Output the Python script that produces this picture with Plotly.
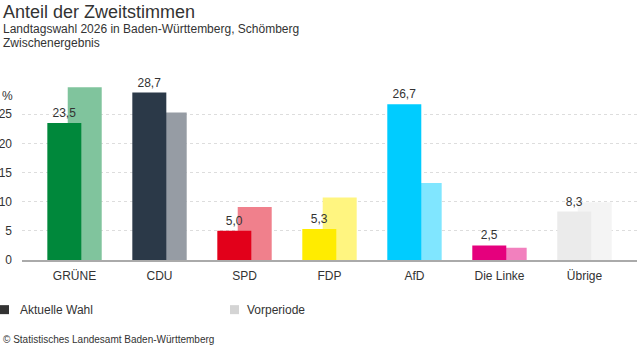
import plotly.graph_objects as go

parties = ["GRÜNE", "CDU", "SPD", "FDP", "AfD", "Die Linke", "Übrige"]
current = [23.5, 28.7, 5.0, 5.3, 26.7, 2.5, 8.3]
previous = [29.6, 25.3, 9.1, 10.7, 13.2, 2.1, 9.9]
labels = ["23,5", "28,7", "5,0", "5,3", "26,7", "2,5", "8,3"]
colors_cur = ["#00883B", "#2B3948", "#E2001A", "#FFEC00", "#00CCFF", "#E5007D", "#EBEBEB"]
colors_prev = ["#80C49D", "#969CA4", "#F0808C", "#FFF580", "#80E6FF", "#F280BE", "#F4F4F4"]
yticks = [0, 5, 10, 15, 20, 25]

W, H = 637, 352
L, R = 22, 0
TOP, BOT = 85.1, 260.3
T, B = TOP, H - BOT
PW = W - L - R
PH = BOT - TOP

def px(x):
    return (x - L) / PW

def py(y):
    return (BOT - y) / PH

xs = list(range(len(parties)))
FONT = "Liberation Sans, Arial, sans-serif"

fig = go.Figure()
fig.add_trace(go.Bar(
    x=xs, y=previous, width=0.4, offset=-0.08,
    marker=dict(color=colors_prev, line=dict(width=0)),
    name="Vorperiode", showlegend=False, hoverinfo="skip",
))
fig.add_trace(go.Bar(
    x=xs, y=current, width=0.4, offset=-0.32,
    marker=dict(color=colors_cur, line=dict(width=0)),
    text=labels, textposition="outside", cliponaxis=False,
    textfont=dict(size=12, color="#333333", family=FONT),
    name="Aktuelle Wahl", showlegend=False, hoverinfo="skip",
))

fig.update_layout(
    width=W, height=H,
    margin=dict(l=L, r=R, t=T, b=B, pad=0),
    paper_bgcolor="white", plot_bgcolor="white",
    barmode="overlay",
    font=dict(family=FONT, size=12, color="#333333"),
    xaxis=dict(
        range=[-0.618, 6.618], tickmode="array", tickvals=xs, ticktext=parties,
        showgrid=False, zeroline=False, showline=True, linecolor="#AAAAAA", linewidth=2,
        ticks="", ticklabelstandoff=4, tickfont=dict(size=12, color="#333333"), fixedrange=True,
    ),
    yaxis=dict(
        range=[0, 30], tickmode="array", tickvals=yticks, ticktext=[str(v) for v in yticks],
        showgrid=True, gridcolor="#DDDDDD", griddash="dot", gridwidth=1,
        zeroline=False, showline=False, ticks="", ticklabelstandoff=9,
        tickfont=dict(size=12, color="#333333"), fixedrange=True,
    ),
    showlegend=False,
)

ann = [
    dict(text="Anteil der Zweitstimmen", x=px(1), y=py(12), size=18),
    dict(text="Landtagswahl 2026 in Baden-Württemberg, Schömberg", x=px(1), y=py(29), size=12),
    dict(text="Zwischenergebnis", x=px(1), y=py(43), size=12),
    dict(text="%", x=px(0), y=py(96), size=12),
    dict(text="Aktuelle Wahl", x=px(18), y=py(310), size=12),
    dict(text="Vorperiode", x=px(245), y=py(310), size=12),
    dict(text="© Statistisches Landesamt Baden-Württemberg", x=px(1), y=py(340), size=10),
]
for a in ann:
    fig.add_annotation(text=a["text"], x=a["x"], y=a["y"], xref="paper", yref="paper",
                       xanchor="left", yanchor="middle", showarrow=False,
                       font=dict(size=a["size"], color="#333333", family=FONT))

fig.add_shape(type="rect", xref="paper", yref="paper",
              x0=px(0), x1=px(9), y0=py(314.5), y1=py(305.5),
              fillcolor="#333333", line=dict(width=0))
fig.add_shape(type="rect", xref="paper", yref="paper",
              x0=px(230), x1=px(239), y0=py(314.5), y1=py(305.5),
              fillcolor="#D4D4D4", line=dict(width=0))

fig.write_html("out.html")
